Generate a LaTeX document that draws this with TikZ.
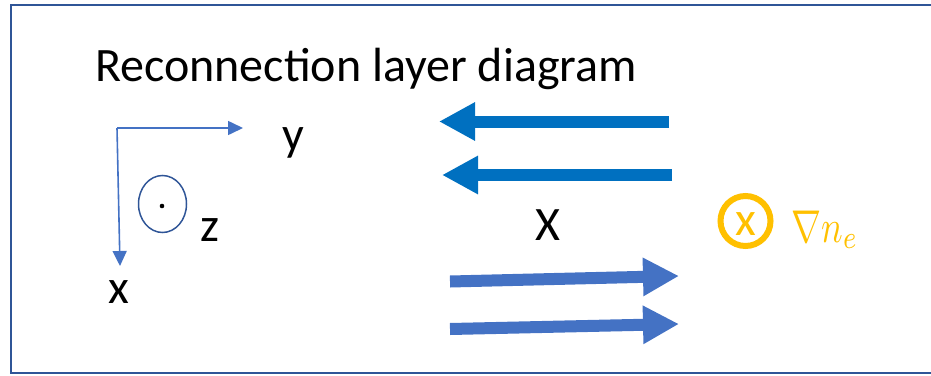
\documentclass[tikz,border=0pt]{standalone}
\usepackage{fontspec}
\setmainfont{Carlito}
\usetikzlibrary{arrows.meta,shapes.geometric}
\definecolor{framecol}{HTML}{2F5597}
\definecolor{axiscol}{HTML}{4472C4}
\definecolor{inflow}{HTML}{0070C0}
\definecolor{outflow}{HTML}{4472C4}
\definecolor{gradcol}{HTML}{FFC000}
\tikzset{
  lbl/.style={inner sep=0pt, font=\fontsize{48}{54}\selectfont},
  axisarrow/.style={draw=axiscol, line width=1.6pt, -{Triangle[length=15pt,width=14pt]}, color=axiscol},
  blockarrow/.style={line width=12pt, -{Triangle[length=36pt,width=36pt]}},
}
\begin{document}
\begin{tikzpicture}[x=1pt, y=-1pt]
\useasboundingbox (0,0) rectangle (931,375);
% open frame, running off the right edge
\draw[framecol, line width=2pt] (931,5) -- (11,5) -- (11,373) -- (931,373);

% title
\node[lbl, anchor=base west] (title) at (95,81) {Reconnection layer diagram};

% coordinate axes
\coordinate (origin) at (117,128);
\coordinate (ytip) at (243,128);
\coordinate (xtip) at (120,266);
\draw[axisarrow] (origin) -- (ytip);
\draw[axisarrow] (origin) -- (xtip);
\node[lbl, anchor=base] (ylab) at (293,150) {y};
\node[lbl] (xlab) at (119,292) {x};

% z out of the page
\node[draw=framecol, line width=1.5pt, ellipse, minimum width=48pt, minimum height=57pt, inner sep=0pt] (zcirc) at (162.5,204) {};
\fill (162,206) circle (2.3pt);
\node[lbl] (zlab) at (209.5,230.5) {z};

% inflow arrows (pointing left)
\coordinate (a1s) at (669,121.5);
\coordinate (a1e) at (439,121.5);
\coordinate (a2s) at (672,175);
\coordinate (a2e) at (442,175);
\draw[blockarrow, inflow] (a1s) -- (a1e);
\draw[blockarrow, inflow] (a2s) -- (a2e);

% X point
\node[lbl] (xpoint) at (547.5,225) {X};

% outflow arrows (pointing right)
\coordinate (a3s) at (450,281.5);
\coordinate (a3e) at (679,276);
\coordinate (a4s) at (450,329);
\coordinate (a4e) at (679,324);
\draw[blockarrow, outflow] (a3s) -- (a3e);
\draw[blockarrow, outflow] (a4s) -- (a4e);

% density gradient into the page
\node[draw=gradcol, line width=6pt, circle, minimum size=50pt, inner sep=0pt] (gcirc) at (745.5,221) {};
\node[lbl, text=gradcol] (gx) at (745.5,224) {x};
\node[inner sep=0pt, text=gradcol, anchor=base west] (grad) at (791,242) {\scalebox{3.6}[4.6]{$\nabla n_e$}};
\end{tikzpicture}
\end{document}
